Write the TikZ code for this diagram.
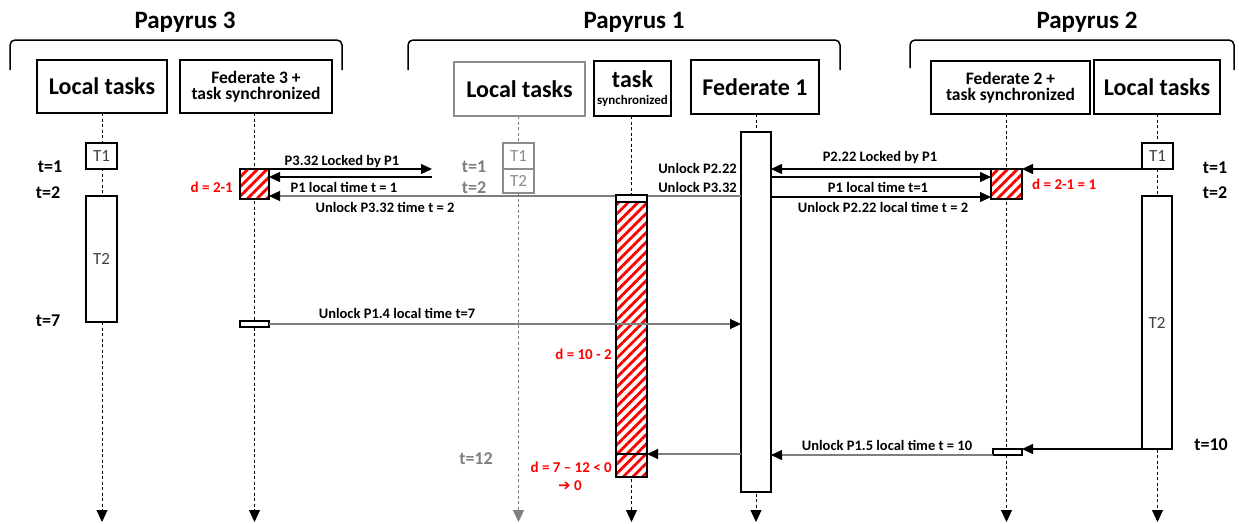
\documentclass[tikz,border=0pt]{standalone}
\usepackage{fontspec}
\setmainfont{Carlito}
\newfontfamily\djv{DejaVu Sans}
\usetikzlibrary{arrows.meta,patterns.meta,backgrounds}
\definecolor{lgray}{HTML}{8C8C8C}
\definecolor{mgray}{HTML}{7F7F7F}
\definecolor{tgray}{HTML}{404040}
\definecolor{hred}{HTML}{FF0000}
\newcommand\fBig{\fontsize{24}{26}\selectfont\bfseries}
\newcommand\fTitle{\fontsize{25}{27}\selectfont\bfseries}
\newcommand\fMid{\fontsize{17.5}{19}\selectfont\bfseries}
\newcommand\fMsg{\fontsize{14.5}{16}\selectfont\bfseries}
\newcommand\fRed{\fontsize{15}{16}\selectfont\bfseries}
\newcommand\fTl{\fontsize{18}{19}\selectfont\bfseries}
\newcommand\fTk{\fontsize{17}{18}\selectfont}
\begin{document}
\begin{tikzpicture}[x=1pt,y=-1pt,
  box/.style={draw, line width=1.8pt, fill=white, inner sep=0pt, outer sep=0pt, anchor=north west, align=center},
  act/.style={draw, line width=1.6pt, fill=white, inner sep=0pt, outer sep=0pt, anchor=north west, font=\fTk, text=tgray},
  hatch/.style={draw, line width=1.6pt, inner sep=0pt, outer sep=0pt, anchor=north west, preaction={fill=white}, pattern={Lines[angle=45,distance=6.8pt,line width=2.8pt]}, pattern color=hred},
  life/.style={dash pattern=on 3pt off 2.5pt, line width=0.9pt, -{Triangle[length=12pt,width=11pt]}},
  msg/.style={line width=1.2pt, -{Triangle[length=11pt,width=10pt,color=black]}},
  gmsg/.style={msg, draw=mgray},
  brk/.style={line width=1.5pt, rounded corners=5pt},
  title/.style={font=\fTitle, inner sep=0pt, anchor=base},
  lbl/.style={font=\fMsg, inner sep=0pt, anchor=base},
  tl/.style={font=\fTl, inner sep=0pt, anchor=base},
  gtl/.style={tl, text=mgray},
  rl/.style={font=\fRed, text=hred, inner sep=0pt, anchor=base}
]
\useasboundingbox (0,0) rectangle (1239,523);

% brackets and titles
\draw[brk] (10,70) -- (10,40) -- (342,40) -- (342,70);
\draw[brk] (408,70) -- (408,40) -- (840,40) -- (840,70);
\draw[brk] (910,68) -- (910,40) -- (1234,40) -- (1234,70);
\node[title] (t3) at (185,28) {Papyrus 3};
\node[title] (t1) at (634,28) {Papyrus 1};
\node[title] (t2) at (1087,28) {Papyrus 2};

% header boxes
\node[box, minimum width=130pt, minimum height=53pt, font=\fBig] (p3lt) at (37,60) {Local tasks};
\node[box, minimum width=152pt, minimum height=53pt, font=\fMid] (p3fed) at (180,60) {Federate 3 +\\[-3pt]task synchronized};
\node[box, draw=lgray, minimum width=131pt, minimum height=54pt, font=\fBig] (p1lt) at (454,62) {Local tasks};
\node[box, minimum width=77pt, minimum height=55pt] (p1ts) at (594,61) {{\fontsize{24}{24}\selectfont\bfseries task}\\[5pt]{\fontsize{13}{13}\selectfont\bfseries synchronized}};
\node[box, minimum width=128pt, minimum height=54pt, font=\fBig] (fed1) at (691,60) {Federate 1};
\node[box, minimum width=159pt, minimum height=53pt, font=\fMid] (p2fed) at (931,61) {Federate 2 +\\[-3pt]task synchronized};
\node[box, minimum width=126pt, minimum height=54pt, font=\fBig] (p2lt) at (1094,60) {Local tasks};

\coordinate (bot) at (0,522);

% activations
\node[act, minimum width=31pt, minimum height=26pt] (p3t1) at (86,143) {T1};
\node[act, minimum width=31pt, minimum height=126pt] (p3t2) at (86,196) {T2};
\node[hatch, minimum width=29pt, minimum height=30pt] (p3h) at (240,169) {};
\node[act, minimum width=29pt, minimum height=6pt] (p3s) at (240,321) {};
\node[act, draw=lgray, text=lgray, minimum width=31pt, minimum height=26pt] (p1t1) at (503,143) {T1};
\node[act, draw=lgray, text=lgray, minimum width=31pt, minimum height=24pt] (p1t2) at (503,169) {T2};
\node[act, minimum width=30pt, minimum height=360pt] (fed1a) at (741,132) {};

% message behind task activation
\coordinate (f1u) at ([yshift=-64pt]fed1a.north west);
\coordinate (p3in) at ([yshift=3pt]p3h.south east);
\draw[gmsg] (f1u) -- (p3in);

\node[act, minimum width=31pt, minimum height=282pt] (tsa) at (616,195) {};
\node[hatch, minimum width=31pt, minimum height=275pt] (tsh) at (616,202) {};
\coordinate (tsdl) at ([yshift=23pt]tsh.south west);
\coordinate (tsdr) at ([yshift=23pt]tsh.south east);
\draw[line width=1.6pt] (tsdl) -- (tsdr);

\node[hatch, minimum width=31pt, minimum height=30pt] (p2h) at (991,169) {};
\node[act, minimum width=29pt, minimum height=6pt] (p2s) at (993,449) {};
\node[act, minimum width=31pt, minimum height=26pt] (p2t1) at (1142,143) {T1};
\node[act, minimum width=30pt, minimum height=253pt] (p2t2) at (1142,196) {T2};

% lifelines
\begin{scope}[on background layer]
\draw[life] (p3lt.south) -- (p3lt.south |- bot);
\draw[life] (p3h.north |- p3fed.south) -- (p3h.north |- bot);
\draw[life, draw=mgray, -{Triangle[length=12pt,width=11pt,color=mgray]}] (p1t1.north |- p1lt.south) -- (p1t1.north |- bot);
\draw[life] (tsa.north |- p1ts.south) -- (tsa.north |- bot);
\draw[life] (fed1a.north |- fed1.south) -- (fed1a.north |- bot);
\draw[life] (p2h.north |- p2fed.south) -- (p2h.north |- bot);
\draw[life] (p2t1.north |- p2lt.south) -- (p2t1.north |- bot);
\end{scope}

% messages
\coordinate (m1) at (432,169);
\coordinate (m2) at (432,177);
\coordinate (p3mid) at ([yshift=-8pt]p3h.north east);
\coordinate (p2mid) at ([yshift=-8pt]p2h.north west);
\coordinate (p2low) at ([yshift=2pt]p2h.south west);
\draw[msg] (p3h.north east) -- (m1);
\draw[msg] (m2) -- (p3mid);
\draw[gmsg] (p3s.east) -- (fed1a.west |- p3s.east);
\draw[msg] (p2h.north west) -- (fed1a.east |- p2h.north west);
\draw[msg] (fed1a.east |- p2mid) -- (p2mid);
\draw[msg] (fed1a.east |- p2low) -- (p2low);
\draw[msg] (p2t1.south west) -- (p2h.north east);
\draw[msg] (p2t2.south west) -- (p2s.east |- p2t2.south west);
\draw[gmsg] (p2s.south west) -- (fed1a.east |- p2s.south west);
\draw[gmsg] (fed1a.west |- tsdr) -- (tsdr);

% message labels
\node[lbl] at (342,165) {P3.32 Locked by P1};
\node[lbl] at (344,192) {P1 local time t = 1};
\node[lbl] at (385,212) {Unlock P3.32 time t = 2};
\node[lbl, anchor=base east] at (737,173) {Unlock P2.22};
\node[lbl, anchor=base east] at (737,192) {Unlock P3.32};
\node[lbl] at (880,161) {P2.22 Locked by P1};
\node[lbl] at (878,192) {P1 local time t=1};
\node[lbl] at (883,212) {Unlock P2.22 local time t = 2};
\node[lbl] at (397,318) {Unlock P1.4 local time t=7};
\node[lbl] at (887,450) {Unlock P1.5 local time t = 10};

% time labels
\node[tl] at (50,172) {t=1};
\node[tl] at (48,198) {t=2};
\node[tl] at (48,326) {t=7};
\node[gtl] at (474,172) {t=1};
\node[gtl] at (474,193) {t=2};
\node[gtl] at (476,464) {t=12};
\node[tl] at (1215,173) {t=1};
\node[tl] at (1215,198) {t=2};
\node[tl] at (1211,450) {t=10};

% red labels
\node[rl, anchor=base east] at (233,192) {d = 2-1};
\node[rl, anchor=base west] at (1032,189) {d = 2-1 = 1};
\node[rl, anchor=base east] at (612,359) {d = 10 - 2};
\node[rl, anchor=base east] at (612,472) {d = 7 – 12 < 0};
\node[rl] at (570,490) {{\djv\bfseries ➔} 0};
\end{tikzpicture}
\end{document}
